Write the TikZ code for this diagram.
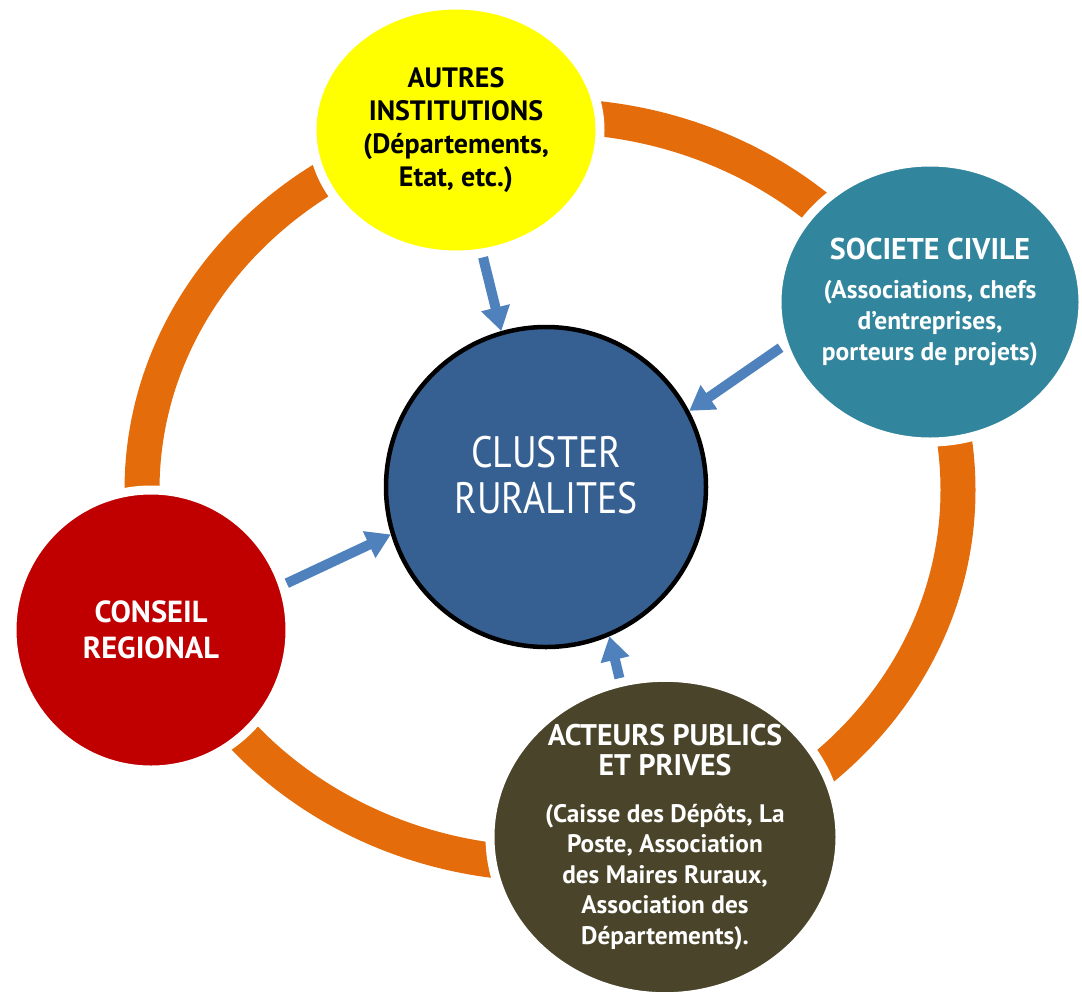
\documentclass[tikz,border=0pt]{standalone}
\usepackage{fontspec}
\setmainfont{PT Sans}
\newfontfamily\clufont{PT Sans}[FakeStretch=0.86]
\usetikzlibrary{shapes.geometric,arrows.meta}
\definecolor{ringorange}{HTML}{E46C0A}
\definecolor{instyellow}{HTML}{FFFF00}
\definecolor{civteal}{HTML}{31859C}
\definecolor{regred}{HTML}{C00000}
\definecolor{actolive}{HTML}{4A452A}
\definecolor{clublue}{HTML}{376092}
\definecolor{linkblue}{HTML}{4F81BD}
\tikzset{ring/.style={draw=ringorange, line width=35pt},
  bubble/.style={ellipse, draw=white, line width=9pt, inner sep=0pt, align=center, text=white, font=\bfseries\fontsize{28}{33}\selectfont},
  link/.style={draw=linkblue, line width=10pt, -{Triangle[width=28pt,length=24pt]}}}

\begin{document}
\begin{tikzpicture}[x=1pt,y=-1pt]
  \useasboundingbox (0,0) rectangle (1082,994);
  \draw[ring] (550,490) ellipse [x radius=408pt, y radius=374pt];

  \node[circle, draw=black, line width=4.5pt, fill=clublue, minimum size=320pt] (clu) at (546,487) {};
  \node[text=white, align=center, font=\clufont\fontsize{44}{46}\selectfont] (clutxt) at (546,475) {CLUSTER\\RURALITES};

  \node[bubble, fill=instyellow, text=black, minimum width=288pt, minimum height=250pt] (inst) at (456,130)
    {AUTRES\\INSTITUTIONS\\(Départements,\\Etat, etc.)};
  \node[bubble, fill=civteal, minimum width=306pt, minimum height=280pt, font=\bfseries\fontsize{25.5}{31}\selectfont] (civ) at (930,302)
    {{\fontsize{30}{32}\selectfont SOCIETE CIVILE}\\[8pt](Associations, chefs\\d’entreprises,\\porteurs de projets)};
  \node[bubble, fill=regred, minimum width=278pt, minimum height=280pt, font=\bfseries\fontsize{30.5}{36}\selectfont] (reg) at (151,630)
    {CONSEIL\\REGIONAL};
  \node[bubble, fill=actolive, minimum width=350pt, minimum height=314pt, font=\bfseries\fontsize{25.3}{30.5}\selectfont] (act) at (665,837)
    {{\fontsize{29.8}{33}\selectfont ACTEURS PUBLICS}\\{\fontsize{29.8}{33}\selectfont ET PRIVES}\\[16pt](Caisse des Dépôts, La\\Poste, Association\\des Maires Ruraux,\\Association des\\Départements).};

  \draw[link] (inst.282) -- (clu.106);
  \draw[link] (civ.197) -- (clu.28);
  \draw[link] (reg.19) -- (clu.197);
  \draw[link] (act.106) -- (clu.293);
\end{tikzpicture}
\end{document}
